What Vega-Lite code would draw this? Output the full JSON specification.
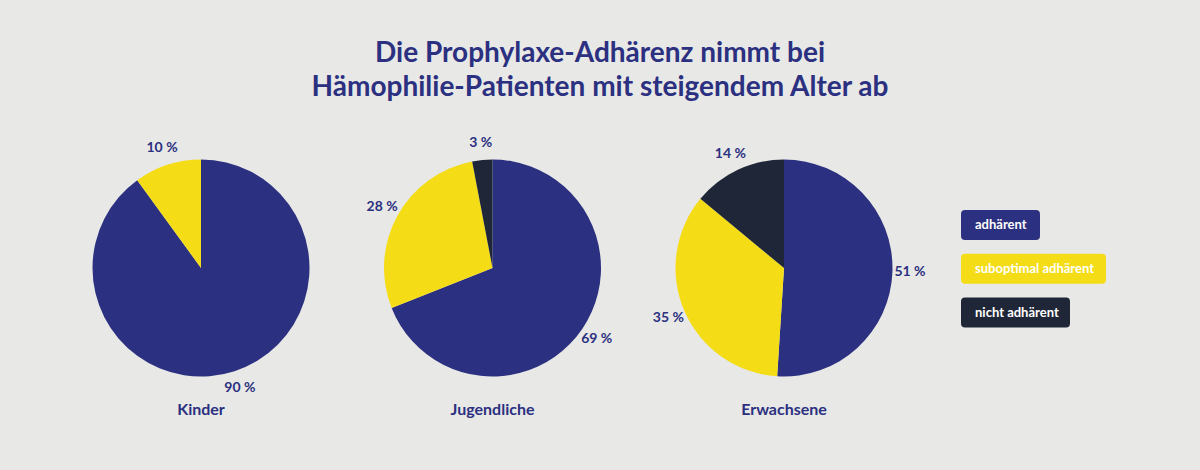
{
  "$schema": "https://vega.github.io/schema/vega-lite/v6.json",
  "width": 1200,
  "height": 316,
  "autosize": {"type": "none"},
  "padding": {"top": 110, "bottom": 44, "left": 0, "right": 0},
  "background": "#e8e8e6",
  "title": {
    "text": ["Die Prophylaxe-Adhärenz nimmt bei", "Hämophilie-Patienten mit steigendem Alter ab"],
    "font": "Lato",
    "fontSize": 28,
    "fontWeight": "bold",
    "lineHeight": 34,
    "color": "#2b3080",
    "anchor": "middle",
    "offset": 8
  },
  "datasets": {
    "anteile": [
      {"group": "Kinder", "category": "adhärent", "value": 90},
      {"group": "Kinder", "category": "suboptimal adhärent", "value": 10},
      {"group": "Jugendliche", "category": "adhärent", "value": 69},
      {"group": "Jugendliche", "category": "suboptimal adhärent", "value": 28},
      {"group": "Jugendliche", "category": "nicht adhärent", "value": 3},
      {"group": "Erwachsene", "category": "adhärent", "value": 51},
      {"group": "Erwachsene", "category": "suboptimal adhärent", "value": 35},
      {"group": "Erwachsene", "category": "nicht adhärent", "value": 14}
    ],
    "gruppen": [
      {"group": "Kinder"},
      {"group": "Jugendliche"},
      {"group": "Erwachsene"}
    ],
    "legende": [
      {"category": "adhärent"},
      {"category": "suboptimal adhärent"},
      {"category": "nicht adhärent"}
    ]
  },
  "encoding": {
    "x": {
      "field": "group",
      "type": "nominal",
      "scale": {
        "type": "point",
        "domain": ["Kinder", "Jugendliche", "Erwachsene", "Legende"],
        "range": [201, 1075.5],
        "padding": 0
      },
      "axis": null
    }
  },
  "layer": [
    {
      "data": {"name": "anteile"},
      "transform": [
        {"calculate": "indexof(['adhärent', 'suboptimal adhärent', 'nicht adhärent'], datum.category)", "as": "order"},
        {"stack": "value", "groupby": ["group"], "sort": [{"field": "order"}], "as": ["start", "end"]}
      ],
      "mark": {"type": "arc", "outerRadius": 108.5, "strokeWidth": 0},
      "encoding": {
        "theta": {
          "field": "start",
          "type": "quantitative",
          "scale": {"domain": [0, 100], "range": [0, 6.283185307179586]}
        },
        "theta2": {"field": "end"},
        "color": {
          "field": "category",
          "type": "nominal",
          "scale": {
            "domain": ["adhärent", "suboptimal adhärent", "nicht adhärent"],
            "range": ["#2b3080", "#f4dc17", "#1f2637"]
          },
          "legend": null
        }
      }
    },
    {
      "data": {"name": "anteile"},
      "transform": [
        {"calculate": "indexof(['adhärent', 'suboptimal adhärent', 'nicht adhärent'], datum.category)", "as": "order"},
        {"stack": "value", "groupby": ["group"], "sort": [{"field": "order"}], "as": ["start", "end"]},
        {"calculate": "(datum.start + datum.end) / 2", "as": "mid"},
        {"calculate": "datum.value + ' %'", "as": "label"}
      ],
      "mark": {
        "type": "text",
        "radius": 126,
        "font": "Lato",
        "fontSize": 14,
        "fontWeight": "bold",
        "color": "#2b3080",
        "align": "center",
        "baseline": "middle"
      },
      "encoding": {
        "theta": {"field": "mid", "type": "quantitative"},
        "text": {"field": "label"}
      }
    },
    {
      "data": {"name": "gruppen"},
      "mark": {
        "type": "text",
        "dy": 142,
        "font": "Lato",
        "fontSize": 16,
        "fontWeight": "bold",
        "color": "#2b3080",
        "align": "center",
        "baseline": "middle"
      },
      "encoding": {
        "text": {"field": "group"}
      }
    },
    {
      "data": {"name": "legende"},
      "mark": {"type": "point", "filled": true, "size": 900, "opacity": 1, "strokeWidth": 0},
      "encoding": {
        "x": {"datum": "Legende", "type": "nominal"},
        "y": {
          "field": "category",
          "type": "nominal",
          "scale": {
            "type": "point",
            "domain": ["adhärent", "suboptimal adhärent", "nicht adhärent"],
            "range": [115, 202.5],
            "padding": 0
          },
          "axis": null
        },
        "shape": {
          "field": "category",
          "type": "nominal",
          "scale": {
            "domain": ["adhärent", "suboptimal adhärent", "nicht adhärent"],
            "range": [
              "M-7.367,-1H-2.633Q-2.367,-1 -2.367,-0.733V0.733Q-2.367,1 -2.633,1H-7.367Q-7.633,1 -7.633,0.733V-0.733Q-7.633,-1 -7.367,-1Z",
              "M-7.367,-1H1.767Q2.033,-1 2.033,-0.733V0.733Q2.033,1 1.767,1H-7.367Q-7.633,1 -7.633,0.733V-0.733Q-7.633,-1 -7.367,-1Z",
              "M-7.367,-1H-0.633Q-0.367,-1 -0.367,-0.733V0.733Q-0.367,1 -0.633,1H-7.367Q-7.633,1 -7.633,0.733V-0.733Q-7.633,-1 -7.367,-1Z"
            ]
          },
          "legend": null
        },
        "color": {"field": "category", "type": "nominal", "legend": null}
      }
    },
    {
      "data": {"name": "legende"},
      "mark": {
        "type": "text",
        "dx": -100.5,
        "font": "Lato",
        "fontSize": 13,
        "fontWeight": "bold",
        "color": "#ffffff",
        "align": "left",
        "baseline": "middle"
      },
      "encoding": {
        "x": {"datum": "Legende", "type": "nominal"},
        "y": {"field": "category", "type": "nominal"},
        "text": {"field": "category"}
      }
    }
  ],
  "config": {
    "view": {"stroke": null}
  }
}
